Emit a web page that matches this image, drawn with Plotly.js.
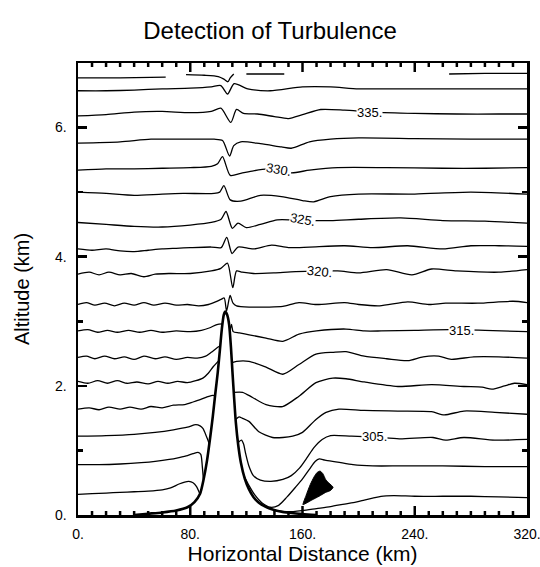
<!DOCTYPE html>
<html>
<head>
<meta charset="utf-8">
<script src="https://cdn.plot.ly/plotly-3.0.1.min.js"></script>
<style>html,body{margin:0;padding:0;background:#fff;}#chart{width:540px;height:567px;}</style>
</head>
<body>
<div id="chart"></div>
<script>
// ---- data (km) ----
const xTicks = [0, 80, 160, 240, 320];
const xTickText = ['0.', '80.', '160.', '240.', '320.'];
const xMinorTicks = [10, 20, 30, 40, 50, 60, 70, 90, 100, 110, 120, 130, 140, 150, 170, 180, 190, 200, 210, 220, 230, 250, 260, 270, 280, 290, 300, 310];
const yTicks = [0, 2, 4, 6];
const yTickText = ['0.', '2.', '4.', '6.'];
const yMinorTicks = [0, 1, 2, 3, 4, 5, 6, 7];

const terrainX = [40, 50, 60, 70, 78, 83, 87, 89.5, 92, 94.2, 96.1, 97.8, 99.6, 101.1, 102.5, 103.9, 105.0, 106.3, 107.7, 109, 110.1, 111.3, 112.5, 114.2, 116.1, 118.9, 121.8, 125, 128.9, 133.5, 138.7, 145, 150.4, 160, 170];
const terrainY = [0, 0.02, 0.04, 0.07, 0.12, 0.2, 0.33, 0.55, 0.85, 1.2, 1.53, 1.87, 2.21, 2.55, 2.88, 3.1, 3.15, 3.1, 2.95, 2.6, 2.21, 1.8, 1.43, 1.08, 0.81, 0.56, 0.40, 0.28, 0.19, 0.13, 0.085, 0.05, 0.035, 0.015, 0];

const blobX = [160.3, 162.5, 165.5, 168.5, 170.5, 172.5, 174.5, 176.5, 179, 181.8, 180, 176.5, 171.8, 166.5, 163.2, 160.3];
const blobY = [0.16, 0.3, 0.47, 0.6, 0.66, 0.68, 0.64, 0.55, 0.49, 0.43, 0.38, 0.35, 0.29, 0.23, 0.19, 0.16];

const th300x = [0, 10, 20, 30, 40, 50, 60, 66, 72, 76, 79, 82, 84.5, 86.8, null, 140, 150, 160, 170, 180, 190, 198, 204, 210, 216, 225, 240, 260, 280, 300, 320];
const th300y = [0.32, 0.33, 0.34, 0.35, 0.36, 0.37, 0.39, 0.42, 0.48, 0.51, 0.52, 0.5, 0.44, 0.33, null, 0.07, 0.05, 0.07, 0.1, 0.13, 0.17, 0.2, 0.23, 0.26, 0.29, 0.3, 0.29, 0.29, 0.29, 0.28, 0.27];

const th302x = [0, 15, 30, 45, 55, 65, 72, 78, 82, 85.5, 87.5, 88.6, 89.4, null, 118.5, 122, 126, 131, 137, 143, 149, 155, 160, 165, 169, 172, 176, 185, 196, 210, 230, 260, 290, 320];
const th302y = [0.78, 0.78, 0.79, 0.81, 0.83, 0.86, 0.89, 0.92, 0.95, 0.97, 0.94, 0.75, 0.54, null, 0.6, 0.45, 0.31, 0.19, 0.12, 0.15, 0.28, 0.43, 0.56, 0.71, 0.83, 0.87, 0.85, 0.82, 0.78, 0.76, 0.76, 0.76, 0.75, 0.75];

const th305x = [0, 20, 40, 55, 68, 78, 84, 87, 89, 91.5, 93.6, null, 114, 116.5, 118, 119.5, 121.8, 125, 130, 137.5, 146, 152, 158, 163, 168, 174, 180, 195, 211, 229, 253, 262, 275, 297, 320];
const th305y = [1.22, 1.23, 1.25, 1.28, 1.32, 1.36, 1.4, 1.38, 1.34, 1.22, 1.1, null, 1.12, 1.16, 1.1, 0.95, 0.76, 0.61, 0.54, 0.52, 0.55, 0.61, 0.73, 0.88, 1.04, 1.17, 1.23, 1.22, 1.21, 1.18, 1.2, 1.16, 1.2, 1.16, 1.17];

const th307x = [0, 8, 15, 22, 30, 37, 45, 52, 60, 68, 76, 82, 87.5, 92, 95, 97.7, null, 112.35, 114.8, 117, 121.8, 128.9, 138.7, 146, 153, 160, 169.6, 176.8, 186, 204, 228, 252, 261, 275, 297, 320];
const th307y = [1.64, 1.66, 1.63, 1.67, 1.64, 1.67, 1.64, 1.68, 1.66, 1.7, 1.71, 1.75, 1.79, 1.83, 1.85, 1.85, null, 1.48, 1.52, 1.5, 1.45, 1.29, 1.2, 1.2, 1.22, 1.28, 1.48, 1.59, 1.64, 1.62, 1.61, 1.6, 1.55, 1.61, 1.59, 1.56];

const th310x = [0, 7, 14, 21, 28, 35, 42, 50, 57, 64, 71, 78, 84, 89, 93, 96.5, 100.4, null, 111, 117.3, 124.4, 134, 145.8, 157.5, 169.6, 181.6, 191, 204, 228, 252, 275, 288, 295, 304, 311, 320];
const th310y = [2.07, 2.04, 2.08, 2.04, 2.08, 2.04, 2.06, 2.03, 2.07, 2.04, 2.07, 2.05, 2.08, 2.12, 2.2, 2.3, 2.39, null, 1.9, 1.9, 1.82, 1.71, 1.68, 1.84, 2.05, 2.12, 2.11, 2.06, 1.99, 2.02, 1.99, 1.98, 1.95, 2.0, 2.04, 2.02];

const th312x = [0, 6, 12, 19, 26, 33, 40, 47, 55, 62, 70, 78, 85, 91, 95, 98.5, 101.4, null, 109.7, 113, 121.8, 134, 146, 157.5, 169.6, 182, 191, 204, 220, 235, 246, 257, 266, 282, 300, 320];
const th312y = [2.44, 2.46, 2.42, 2.46, 2.42, 2.45, 2.41, 2.46, 2.42, 2.45, 2.41, 2.44, 2.43, 2.46, 2.52, 2.58, 2.62, null, 2.36, 2.38, 2.38, 2.29, 2.18, 2.33, 2.49, 2.52, 2.53, 2.46, 2.42, 2.39, 2.45, 2.46, 2.41, 2.45, 2.45, 2.43];

const th315x = [0, 7, 14, 21, 28, 36, 44, 52, 60, 70, 80, 88, 94, 99, 102.9, null, 108.1, 109.4, 110.6, 115, 122, 134, 146, 157.5, 170, 191, 204, 216, 240, 265, 290, 320];
const th315y = [2.85, 2.87, 2.83, 2.86, 2.83, 2.86, 2.83, 2.86, 2.83, 2.85, 2.84, 2.86, 2.9, 2.95, 2.96, null, 2.83, 2.95, 2.84, 2.82, 2.79, 2.74, 2.69, 2.8, 2.85, 2.88, 2.85, 2.85, 2.86, 2.87, 2.86, 2.84];

const th317x = [0, 6, 12, 19, 26, 33, 40, 47, 54, 62, 70, 78, 86, 93, 98, 102, 104.2, 105.9, 108.4, 110.5, 113, 122, 135, 146, 157.5, 170, 190, 200, 215, 235, 250, 262, 285, 310, 320];
const th317y = [3.26, 3.29, 3.25, 3.28, 3.24, 3.28, 3.25, 3.29, 3.25, 3.28, 3.25, 3.26, 3.24, 3.26, 3.3, 3.34, 3.36, 3.16, 3.4, 3.28, 3.24, 3.22, 3.22, 3.23, 3.29, 3.26, 3.29, 3.26, 3.24, 3.3, 3.26, 3.28, 3.28, 3.31, 3.29];

const th320x = [0, 8, 15, 22, 30, 38, 47, 55, 65, 80, 95, 101.8, 106.5, 110.3, 113, 117, 125, 140, 155, 185, 200, 220, 238, 252, 270, 300, 320];
const th320y = [3.73, 3.76, 3.72, 3.76, 3.72, 3.74, 3.69, 3.73, 3.74, 3.74, 3.78, 3.82, 3.9, 3.52, 3.78, 3.76, 3.74, 3.75, 3.77, 3.78, 3.75, 3.8, 3.72, 3.81, 3.78, 3.76, 3.8];

const th322x = [0, 10, 20, 30, 40, 50, 60, 70, 80, 95, 102, 106, 109.8, 114, 125, 138, 150, 165, 190, 210, 235, 260, 280, 300, 320];
const th322y = [4.12, 4.1, 4.12, 4.09, 4.08, 4.1, 4.12, 4.13, 4.14, 4.15, 4.14, 4.3, 4.05, 4.15, 4.12, 4.18, 4.14, 4.15, 4.17, 4.14, 4.17, 4.12, 4.17, 4.17, 4.16];

const th325x = [0, 20, 40, 60, 80, 95, 102, 105.5, 110, 114, 120, 130, 142, 152, 162, 180, 200, 230, 260, 290, 320];
const th325y = [4.53, 4.5, 4.47, 4.46, 4.49, 4.53, 4.58, 4.7, 4.44, 4.52, 4.45, 4.5, 4.57, 4.57, 4.56, 4.56, 4.58, 4.6, 4.56, 4.55, 4.52];

const th327x = [0, 20, 40, 60, 75, 97, 101, 104, 108.5, 116, 130, 145, 160, 168, 180, 200, 240, 280, 320];
const th327y = [5.0, 4.98, 4.95, 4.97, 4.98, 4.98, 5.0, 5.1, 4.88, 4.86, 4.95, 4.93, 4.87, 4.85, 4.93, 4.97, 4.97, 5.0, 4.97];

const th330x = [0, 20, 40, 60, 80, 95, 99.5, 103, 108.5, 116, 125, 135, 143, 152, 165, 185, 220, 260, 290, 320];
const th330y = [5.34, 5.36, 5.36, 5.37, 5.38, 5.4, 5.44, 5.55, 5.26, 5.29, 5.33, 5.36, 5.35, 5.3, 5.34, 5.38, 5.38, 5.37, 5.37, 5.38];

const th332x = [0, 30, 52, 80, 97, 103, 108, 111, 116, 130, 145, 152, 165, 180, 200, 240, 280, 320];
const th332y = [5.76, 5.78, 5.82, 5.82, 5.82, 5.8, 5.56, 5.72, 5.78, 5.75, 5.7, 5.68, 5.78, 5.82, 5.84, 5.83, 5.82, 5.82];

const th335x = [0, 20, 40, 60, 80, 95, 101.8, 108.9, 113, 118, 128, 140, 150, 160, 173, 190, 210, 240, 270, 300, 320];
const th335y = [6.18, 6.2, 6.24, 6.25, 6.23, 6.25, 6.3, 6.08, 6.28, 6.22, 6.21, 6.17, 6.14, 6.2, 6.28, 6.27, 6.24, 6.22, 6.21, 6.21, 6.21];

const th337x = [0, 20, 40, 60, 80, 95, 101.8, 106.6, 111.3, 121, 137, 160, 180, 200, 230, 260, 290, 320];
const th337y = [6.57, 6.57, 6.58, 6.6, 6.61, 6.63, 6.65, 6.52, 6.68, 6.6, 6.57, 6.63, 6.63, 6.6, 6.6, 6.6, 6.6, 6.6];

const th340x = [0, 30, 62.5, null, 77, 90, 100, 104, 106.8, 108.5, 111, null, 120, 135, 147, null, 264.5, 290, 320];
const th340y = [6.77, 6.77, 6.78, null, 6.82, 6.81, 6.79, 6.75, 6.71, 6.77, 6.83, null, 6.83, 6.83, 6.83, null, 6.83, 6.84, 6.84];

const labelText = ['335.', '330.', '325.', '320.', '315.', '305.'];
const labelX = [207.5, 143, 160, 172, 273, 211];
const labelY = [6.24, 5.35, 4.57, 3.77, 2.86, 1.22];
const labelTilt = [0, 10, 10, 6, 0, 0];

// ---- build ----
const isentropes = [
  [th300x, th300y], [th302x, th302y], [th305x, th305y], [th307x, th307y],
  [th310x, th310y], [th312x, th312y], [th315x, th315y], [th317x, th317y],
  [th320x, th320y], [th322x, th322y], [th325x, th325y], [th327x, th327y],
  [th330x, th330y], [th332x, th332y], [th335x, th335y], [th337x, th337y],
  [th340x, th340y]
];

const traces = isentropes.map(([xs, ys]) => ({
  x: xs, y: ys, type: 'scatter', mode: 'lines', connectgaps: false,
  line: {color: 'black', width: 1.3, shape: 'spline', smoothing: 0.7},
  hoverinfo: 'skip', showlegend: false
}));

// terrain and turbulence patch on the overlay y axis (same range), which draws the long y ticks
traces.push({
  x: terrainX, y: terrainY, type: 'scatter', mode: 'lines', yaxis: 'y2',
  line: {color: 'black', width: 2.6, shape: 'spline', smoothing: 0.6},
  hoverinfo: 'skip', showlegend: false
});
traces.push({
  x: blobX, y: blobY, type: 'scatter', mode: 'lines', fill: 'toself', yaxis: 'y2',
  fillcolor: 'black', line: {color: 'black', width: 1, shape: 'spline', smoothing: 0.5},
  hoverinfo: 'skip', showlegend: false
});

const annotations = labelText.map((t, i) => ({
  x: labelX[i], y: labelY[i], xref: 'x', yref: 'y', text: t, showarrow: false,
  bgcolor: 'white', borderpad: 0, textangle: labelTilt[i],
  font: {family: 'Liberation Sans, Arial, sans-serif', size: 13, color: 'black'}
}));

// x-axis tick marks (inside, bottom and top) at the x axis' own positions
function tickShapes(vals, len) {
  const out = [];
  vals.forEach(v => {
    [[0, len], [1, -len]].forEach(([anchor, l]) => {
      out.push({type: 'line', xref: 'x', yref: 'paper', ysizemode: 'pixel', yanchor: anchor,
                x0: v, x1: v, y0: 0, y1: l, line: {color: 'black', width: 2.5}, layer: 'above'});
    });
  });
  return out;
}
const shapes = tickShapes(xTicks.slice(1, -1), 9).concat(tickShapes(xMinorTicks, 4));

const font = 'Liberation Sans, Arial, Helvetica, sans-serif';
const yLabels = yMinorTicks.map(v => { const k = yTicks.indexOf(v); return k >= 0 ? yTickText[k] : ''; });

const baseAxis = {
  ticks: 'inside', tickwidth: 2.5, tickcolor: 'black',
  showline: true, linewidth: 2.5, linecolor: 'black', mirror: 'allticks',
  showgrid: false, zeroline: false
};

const layout = {
  width: 540, height: 567,
  margin: {l: 78, r: 13, t: 63, b: 52, pad: 0},
  paper_bgcolor: 'white', plot_bgcolor: 'white',
  showlegend: false,
  font: {family: font, color: 'black'},
  title: {text: 'Detection of Turbulence', font: {family: font, size: 24, color: 'black'},
          x: 0.5, xref: 'container', y: 1 - 31 / 567, yref: 'container', yanchor: 'middle'},
  xaxis: {
    range: [0, 320], tickmode: 'array', tickvals: xTicks, ticktext: xTickText,
    ticks: '', showline: true, linewidth: 2.5, linecolor: 'black', mirror: true,
    showgrid: false, zeroline: false,
    tickfont: {family: font, size: 14, color: 'black'},
    ticklabeloverflow: 'allow', ticklabelstandoff: 5,
    title: {text: 'Horizontal Distance (km)', font: {family: font, size: 21, color: 'black'}, standoff: 2}
  },
  yaxis: Object.assign({}, baseAxis, {
    range: [0, 7], tickmode: 'array', tickvals: yMinorTicks, ticktext: yLabels, ticklen: 5,
    tickfont: {family: font, size: 14, color: 'black'},
    ticklabelstandoff: 6, ticklabeloverflow: 'allow',
    title: {text: 'Altitude (km)', font: {family: font, size: 20, color: 'black'}, standoff: 20}
  }),
  yaxis2: Object.assign({}, baseAxis, {
    overlaying: 'y', anchor: 'x', range: [0, 7], tickmode: 'array', tickvals: yTicks,
    ticklen: 9, showticklabels: false, side: 'left'
  }),
  shapes: shapes,
  annotations: annotations
};

Plotly.newPlot('chart', traces, layout, {staticPlot: true, displayModeBar: false});
</script>
</body>
</html>
